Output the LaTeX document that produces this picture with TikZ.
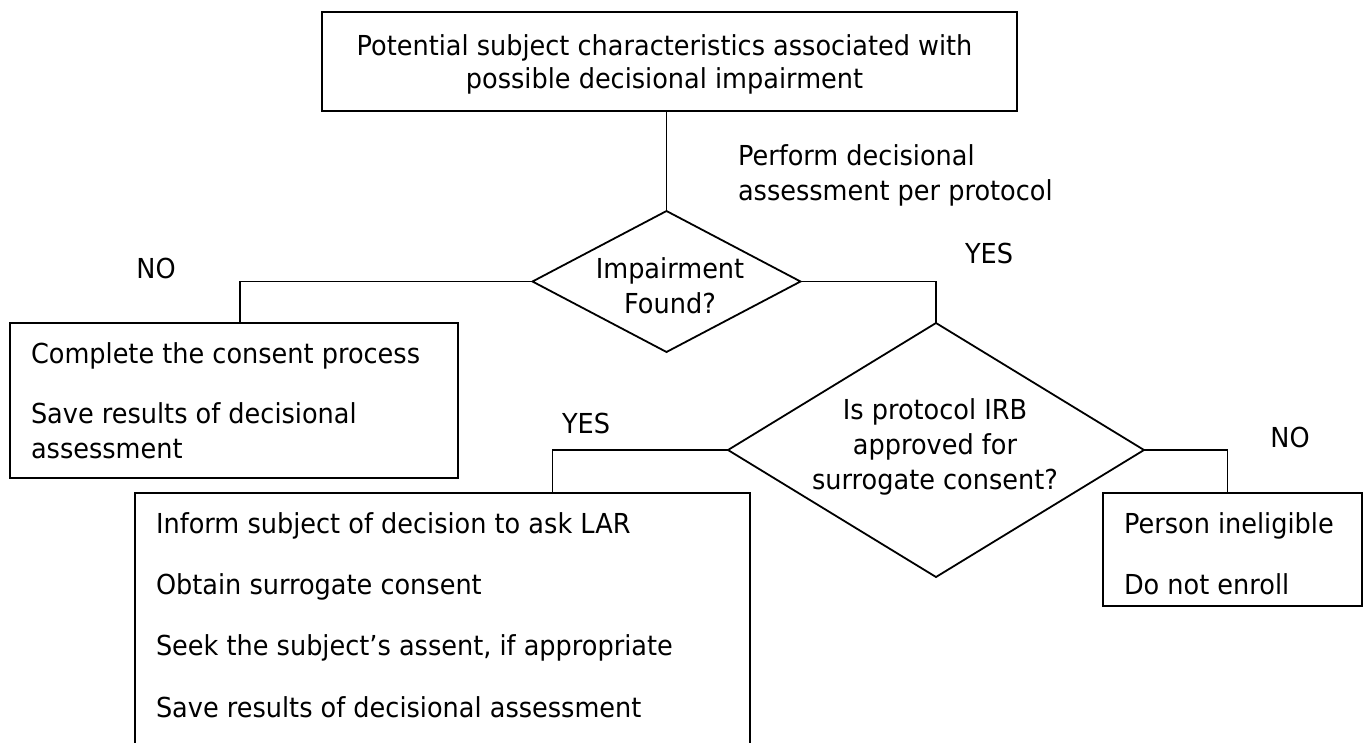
\documentclass[tikz,border=0pt]{standalone}
\usepackage{fontspec}
\setmainfont{DejaVu Sans}[FakeStretch=0.93]
\usetikzlibrary{shapes.geometric}
\begin{document}
\begin{tikzpicture}[x=1pt,y=-1pt,
  every node/.style={font=\fontsize{27.5}{35}\selectfont, inner sep=0pt, outer sep=0pt},
  box/.style={draw, line width=2pt, rectangle, inner sep=0pt},
  dec/.style={draw, line width=1.8pt, diamond, inner sep=0pt},
  txt/.style={anchor=base west, align=left},
  ctxt/.style={anchor=base, align=center},
  conn/.style={line width=1.8pt}]
\useasboundingbox (0,0) rectangle (1364,742);
\clip (0,0) rectangle (1364,742);
% shapes
\node[box, minimum width=695pt, minimum height=99pt] (top) at (669.5,61.5) {};
\node[dec, minimum width=268pt, minimum height=141pt] (d1) at (666.5,281.5) {};
\node[dec, minimum width=416pt, minimum height=254pt] (d2) at (936,450) {};
\node[box, minimum width=448pt, minimum height=155pt] (box1) at (234,400.5) {};
\node[box, minimum width=615pt, minimum height=307pt] (box2) at (442.5,646.5) {};
\node[box, minimum width=259pt, minimum height=113pt] (box3) at (1232.5,549.5) {};
% connectors
\draw[conn] (top.south -| d1.north) -- (d1.north);
\draw[conn] (d1.west) -| ([xshift=6pt]box1.north);
\draw[conn] (d1.east) -| (d2.north);
\draw[conn] (d2.west) -| ([xshift=110pt]box2.north);
\draw[conn] (d2.east) -| ([xshift=-5pt]box3.north);
% texts (base anchor = baseline of the last line)
\node[ctxt, font=\fontsize{27.5}{33}\selectfont] (toptxt) at (664.5,88) {Potential subject characteristics associated with\\possible decisional impairment};
\node[txt] (perf) at (738,200) {Perform decisional\\assessment per protocol};
\node[ctxt] (d1txt) at (670,313) {Impairment\\Found?};
\node[ctxt] (d2txt) at (935,489) {Is protocol IRB\\approved for\\surrogate consent?};
\node[ctxt] (no1) at (156,278) {NO};
\node[ctxt] (yes1) at (989,263) {YES};
\node[ctxt] (yes2) at (586,433) {YES};
\node[ctxt] (no2) at (1290,447) {NO};
\node[txt] (b1a) at (31,363) {Complete the consent process};
\node[txt] (b1b) at (31,458) {Save results of decisional\\assessment};
\node[txt] (b2a) at (156,533) {Inform subject of decision to ask LAR};
\node[txt] (b2b) at (156,594) {Obtain surrogate consent};
\node[txt] (b2c) at (156,655) {Seek the subject’s assent, if appropriate};
\node[txt] (b2d) at (156,717) {Save results of decisional assessment};
\node[txt] (b3a) at (1124,533) {Person ineligible};
\node[txt] (b3b) at (1124,594) {Do not enroll};
\end{tikzpicture}
\end{document}
